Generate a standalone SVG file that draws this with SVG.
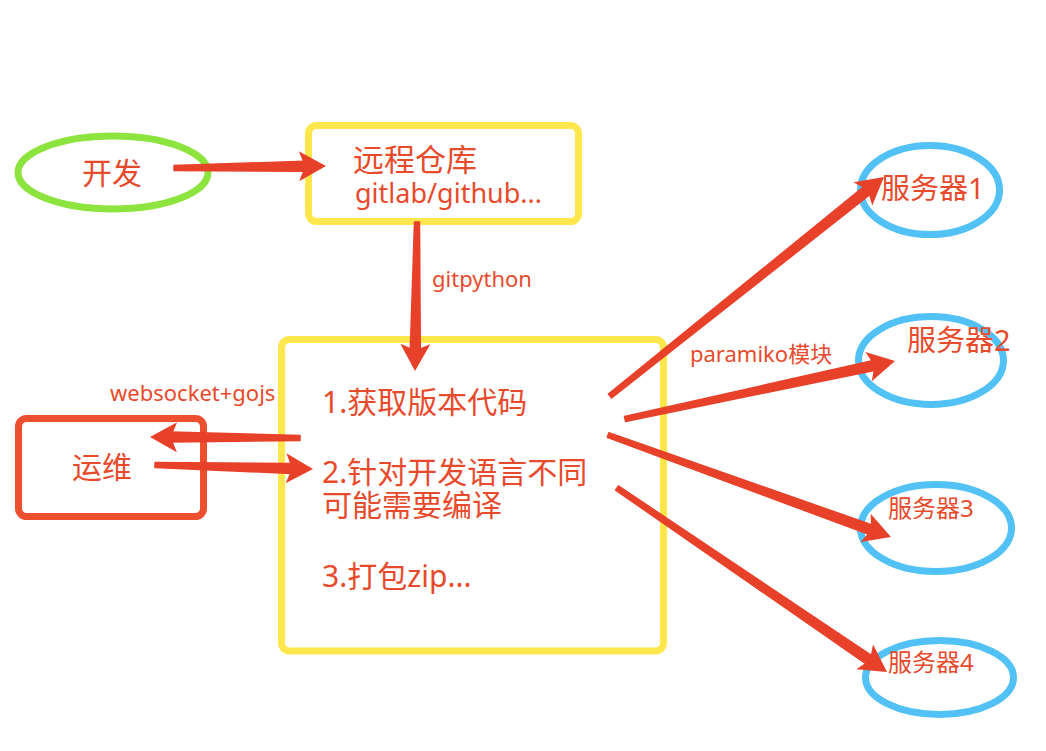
<svg xmlns="http://www.w3.org/2000/svg" xmlns:xlink="http://www.w3.org/1999/xlink" width="1046" height="751" viewBox="0 0 1046 751">
<style>
  text { font-family: "Noto Sans", "Noto Sans CJK SC", sans-serif; fill: #e84a2c; }
  .big { font-size: 30px; }
  .lbl { font-size: 22px; }
  .yel { fill: none; stroke: #fde74c; stroke-width: 7; }
  .blu { fill: none; stroke: #52c1f6; stroke-width: 7; }
  .shaft { fill: #e8412a; stroke: #e8412a; stroke-width: 1.5; stroke-linejoin: round; }
  .head { fill: #e8412a; }
</style>
<defs>
  <path id="ah" d="M0,0 L-27,-15 L-21,0 L-27,15 Z"/>
</defs>
<rect width="1046" height="751" fill="#ffffff"/>

<g id="dev">
  <ellipse cx="113" cy="172.5" rx="95" ry="36.5" fill="none" stroke="#8de43f" stroke-width="7"/>
  <text class="big" x="112" y="184" text-anchor="middle">开发</text>
</g>

<g id="repo">
  <rect class="yel" x="308.5" y="125.5" width="270" height="96" rx="8"/>
  <text x="353" y="171" style="font-size:31px">远程仓库</text>
  <text x="355" y="203" style="font-size:27px">gitlab/github...</text>
</g>

<g id="build">
  <rect class="yel" x="281.5" y="339.5" width="382" height="311.5" rx="8"/>
  <text class="big" x="322" y="413">1.获取版本代码</text>
  <text class="big" x="322" y="483">2.针对开发语言不同</text>
  <text class="big" x="322" y="516">可能需要编译</text>
  <text class="big" x="322" y="587">3.打包zip...</text>
</g>

<g id="ops">
  <rect x="18.5" y="418.5" width="185" height="98" rx="8" fill="none" stroke="#ec502e" stroke-width="7"/>
  <text class="big" x="102" y="478" text-anchor="middle">运维</text>
</g>

<g id="server1">
  <ellipse class="blu" cx="930" cy="190" rx="69.5" ry="44.5"/>
  <text x="881" y="199" style="font-size:29px">服务器1</text>
</g>
<g id="server2">
  <ellipse class="blu" cx="931" cy="360.5" rx="72.5" ry="44"/>
  <text x="907" y="351" style="font-size:29px">服务器2</text>
</g>
<g id="server3">
  <ellipse class="blu" cx="936" cy="528" rx="75.5" ry="43.5"/>
  <text x="888" y="517" style="font-size:24px">服务器3</text>
</g>
<g id="server4">
  <ellipse class="blu" cx="939.5" cy="677.5" rx="74" ry="37"/>
  <text x="888" y="671" style="font-size:24px">服务器4</text>
</g>

<g id="connectors">
  <!-- dev -> repo -->
  <polygon class="shaft" points="174,170.5 305.1,171.3 304.9,161.3 174,165.5"/>
  <use xlink:href="#ah" class="head" transform="translate(326,166) rotate(-0.75)"/>
  <!-- repo -> build (gitpython) -->
  <polygon class="shaft" points="414.5,222 410.3,349.9 420.3,350.1 419.5,222"/>
  <use xlink:href="#ah" class="head" transform="translate(415,371) rotate(90.77)"/>
  <text class="lbl" x="432" y="286.5">gitpython</text>
  <!-- build -> ops -->
  <polygon class="shaft" points="300,435.5 171,432.1 171,442.1 300,440.5"/>
  <use xlink:href="#ah" class="head" transform="translate(150,437) rotate(180.38)"/>
  <!-- ops -> build -->
  <polygon class="shaft" points="154.9,467.5 291.9,473.5 292.1,463.5 155.1,462.5"/>
  <use xlink:href="#ah" class="head" transform="translate(313,469) rotate(1.45)"/>
  <text class="lbl" x="110" y="400.5">websocket+gojs</text>
  <!-- build -> servers -->
  <polygon class="shaft" points="611.6,398 870.7,194 864.5,186.2 608.4,394.1"/>
  <use xlink:href="#ah" class="head" transform="translate(884,177) rotate(-38.63)"/>
  <polygon class="shaft" points="625.5,421.4 875.5,370.3 873.4,360.5 624.5,416.6"/>
  <use xlink:href="#ah" class="head" transform="translate(895,361) rotate(-12.12)"/>
  <polygon class="shaft" points="607.2,437.4 869.5,534.6 872.9,525.2 608.9,432.7"/>
  <use xlink:href="#ah" class="head" transform="translate(891,537) rotate(19.82)"/>
  <polygon class="shaft" points="615.6,490.1 866.8,664.3 872.5,656 618.4,485.9"/>
  <use xlink:href="#ah" class="head" transform="translate(887,672) rotate(34.29)"/>
  <text class="lbl" x="690" y="361.5">paramiko模块</text>
</g>
</svg>
